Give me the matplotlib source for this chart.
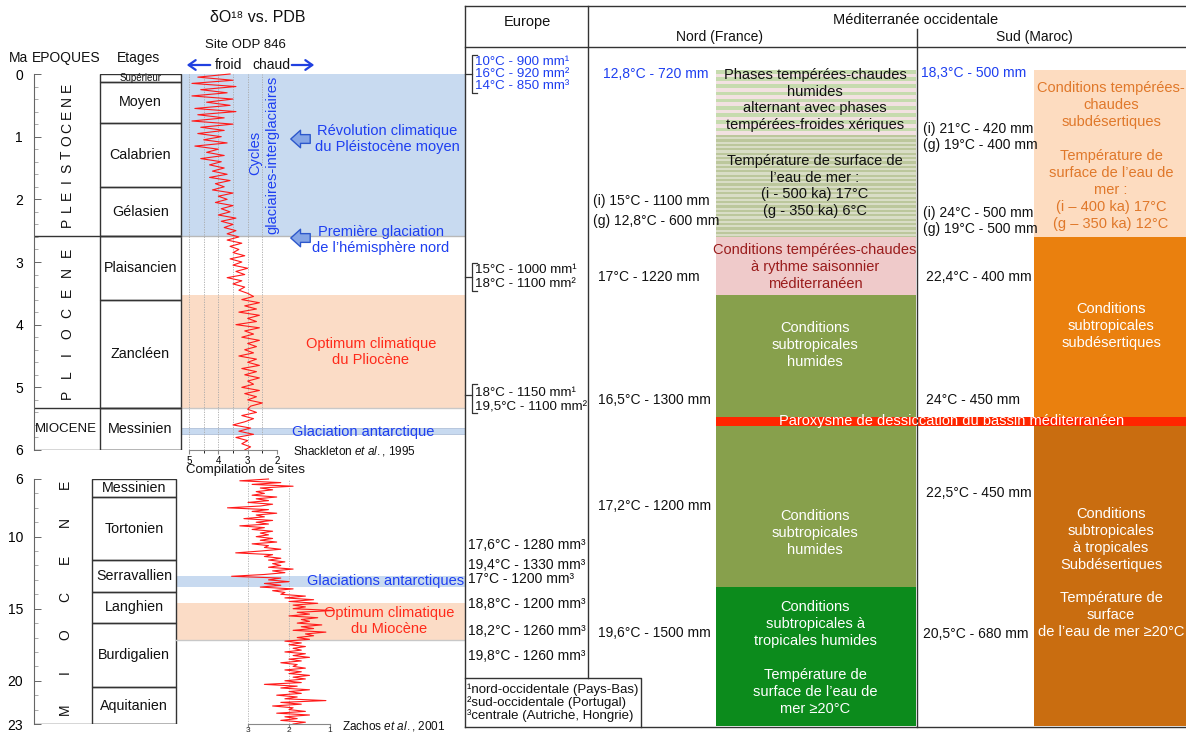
import numpy as np
import matplotlib
matplotlib.use('Agg')
import matplotlib.pyplot as plt
from matplotlib.patches import Rectangle

FONT = ['Liberation Sans', 'DejaVu Sans']
plt.rcParams['font.family'] = FONT
plt.rcParams['mathtext.fontset'] = 'custom'
plt.rcParams['mathtext.rm'] = 'Liberation Sans'
plt.rcParams['mathtext.it'] = 'Liberation Sans:italic'

# ------------------------------------------------------------------ data
top_stages = ['Supérieur', 'Moyen', 'Calabrien', 'Gélasien', 'Plaisancien', 'Zancléen', 'Messinien']
top_stage_bounds = [0.0, 0.126, 0.781, 1.806, 2.588, 3.6, 5.333, 6.0]
top_epoch_bounds = [2.588, 5.333, 6.0]
bot_stages = ['Messinien', 'Tortonien', 'Serravallien', 'Langhien', 'Burdigalien', 'Aquitanien']
bot_stage_bounds = [6.0, 7.25, 11.63, 13.82, 15.97, 20.44, 23.0]

# delta O18 (per mil, PDB) - ODP site 846 (0-6 Ma)
d18o_846 = [3.6, 4.7, 3.5, 4.9, 3.4, 4.6, 3.7, 4.9, 3.5, 4.4, 3.6, 4.8, 3.4, 4.7, 3.8, 4.9, 3.5,
            4.6, 3.8, 4.7, 3.9, 4.5, 3.7, 4.8, 4.0, 4.4, 3.8, 4.6, 3.9, 4.3, 3.8,
            4.2, 3.7, 4.3, 3.6, 4.1, 3.8, 4.2, 3.5, 4.0, 3.7, 4.1, 3.5, 3.9, 3.6, 4.0, 3.4, 3.9, 3.5, 3.8, 3.4, 3.7, 3.3,
            3.7, 3.2, 3.6, 3.3, 3.5, 3.1, 3.6, 3.2, 3.5, 3.0, 3.4, 3.1, 3.7, 3.2, 3.5, 3.1, 3.3, 3.0,
            2.8, 3.2, 2.6, 3.1, 2.7, 3.3, 2.6, 3.0, 2.7, 3.4, 2.6, 3.1, 2.8, 3.2, 2.6, 3.0, 2.7, 3.1,
            2.8, 3.3, 2.7, 3.0, 2.6, 3.2, 2.7, 3.1, 2.6, 3.0, 2.8, 3.2, 2.6, 3.1, 2.7, 3.0, 2.5, 2.9,
            3.0, 2.7, 3.2, 2.8, 3.1, 3.5, 2.9, 3.3, 2.8, 3.4, 3.0, 3.2, 2.9, 3.1]
# delta O18 - compilation (Zachos et al. 2001), 6-23 Ma
d18o_zachos = [2.5, 3.2, 2.2, 2.9, 1.9, 2.7, 2.4, 2.8,
               2.6, 2.9, 2.3, 2.8, 2.5, 3.0, 2.4, 2.7,
               3.5, 2.5, 2.9, 2.3, 2.8, 2.6, 3.1, 2.4,
               2.8, 2.5, 3.2, 2.6, 2.9, 2.4, 2.7, 2.5,
               2.8, 2.4, 2.7, 2.3, 2.9, 2.5, 2.6, 2.2,
               2.7, 3.3, 2.4, 2.6, 2.2, 2.5, 2.1, 2.4,
               2.2, 2.5, 1.9, 2.4, 2.1, 2.6, 3.4, 2.2,
               2.5, 2.0, 2.6, 2.2, 2.7, 1.9, 2.4, 2.1,
               2.2, 1.6, 2.1, 1.4, 2.0, 1.3, 1.9, 1.6,
               1.9, 0.9, 1.8, 1.5, 2.0, 1.3, 1.7, 1.5,
               1.8, 1.2, 1.7, 1.4, 1.9, 1.1, 1.6, 1.4,
               1.8, 1.5, 2.1, 1.7, 2.0, 1.6, 1.9, 1.7,
               2.1, 1.6, 1.9, 1.5, 2.0, 1.7, 2.2, 1.8,
               1.9, 1.6, 2.1, 1.7, 2.0, 1.5, 1.9, 1.6,
               2.1, 1.7, 2.6, 1.8, 2.2, 1.5, 2.0, 1.7,
               2.3, 1.8, 2.1, 1.1, 2.2, 1.7, 2.4, 1.9,
               2.0, 1.6, 2.3, 1.5, 2.1, 1.8, 2.2, 1.6,
               1.9]
ages_846 = np.linspace(0.0, 6.0, len(d18o_846))
ages_zachos = np.linspace(6.0, 23.0, len(d18o_zachos))
ticks_846 = [5, 4, 3, 2]
ticks_zachos = [3, 2, 1]

# climatic events (Ma)
pleisto_band = (0.0, 2.588)
plio_optimum = (3.52, 5.333)
glac_ant_top = (5.65, 5.75)
glac_ant_bot = (12.75, 13.5)
mio_optimum = (14.6, 17.2)

europe_vals = ['17,6°C - 1280 mm³', '19,4°C - 1330 mm³', '17°C - 1200 mm³',
               '18,8°C - 1200 mm³', '18,2°C - 1260 mm³', '19,8°C - 1260 mm³']
europe_brackets = [['10°C - 900 mm¹', '16°C - 920 mm²', '14°C - 850 mm³'],
                   ['15°C - 1000 mm¹', '18°C - 1100 mm²'],
                   ['18°C - 1150 mm¹', '19,5°C - 1100 mm²']]
footnotes = ['¹nord-occidentale (Pays-Bas)', '²sud-occidentale (Portugal)', '³centrale (Autriche, Hongrie)']
nord_vals = ['12,8°C - 720 mm', '(i) 15°C - 1100 mm', '(g) 12,8°C - 600 mm', '17°C - 1220 mm',
             '16,5°C - 1300 mm', '17,2°C - 1200 mm', '19,6°C - 1500 mm']
sud_vals = ['18,3°C - 500 mm', '(i) 21°C - 420 mm', '(g) 19°C - 400 mm', '(i) 24°C - 500 mm',
            '(g) 19°C - 500 mm', '22,4°C - 400 mm', '24°C - 450 mm', '22,5°C - 450 mm', '20,5°C - 680 mm']
nord_blocks = ['Phases tempérées-chaudes\nhumides\nalternant avec phases\ntempérées-froides xériques',
               'Température de surface de\nl\u2019eau de mer :\n(i - 500 ka) 17°C\n(g - 350 ka) 6°C',
               'Conditions tempérées-chaudes\nà rythme saisonnier\nméditerranéen',
               'Conditions\nsubtropicales\nhumides',
               'Conditions\nsubtropicales\nhumides',
               'Conditions\nsubtropicales à\ntropicales humides\n\nTempérature de\nsurface de l\u2019eau de\nmer \u226520°C']
sud_blocks = ['Conditions tempérées-\nchaudes\nsubdésertiques\n\nTempérature de\nsurface de l\u2019eau de\nmer :\n(i \u2013 400 ka) 17°C\n(g \u2013 350 ka) 12°C',
              'Conditions\nsubtropicales\nsubdésertiques',
              'Conditions\nsubtropicales\nà tropicales\nSubdésertiques\n\nTempérature de\nsurface\nde l\u2019eau de mer \u226520°C']
crisis_label = 'Paroxysme de dessiccation du bassin méditerranéen'

# ------------------------------------------------------------------ styles
W, H = 1186, 733
BLUE_T = '#1e3ff0'
RED_T = '#ff2a1a'
BAND_BLUE = '#c8daf0'
BAND_OR = '#fbdcc6'
CURVE = '#ff1a1a'

fig = plt.figure(figsize=(W / 100, H / 100), dpi=100)


def px_axes(x0, y0, x1, y1):
    return fig.add_axes([x0 / W, 1 - y1 / H, (x1 - x0) / W, (y1 - y0) / H])


def rect(ax, x0, y0, x1, y1, **kw):
    ax.add_patch(Rectangle((x0, y0), x1 - x0, y1 - y0, **kw))


def age_axis(ax, x_lo, major, minor, y_lo, y_hi):
    ax.set_xlim(x_lo, 465)
    ax.set_ylim(y_hi, y_lo)
    ax.patch.set_visible(False)
    for s in ['top', 'right', 'bottom']:
        ax.spines[s].set_visible(False)
    ax.spines['left'].set_color('#666666')
    ax.spines['left'].set_linewidth(0.8)
    ax.set_xticks([])
    ax.set_yticks(major)
    ax.set_yticks(minor, minor=True)
    ax.tick_params(axis='y', which='major', direction='in', length=5, width=0.7,
                   color='#666666', labelsize=10, pad=8)
    ax.tick_params(axis='y', which='minor', direction='in', length=3, width=0.5, color='#888888')


# ---------------- top stratigraphic panel (0-6 Ma)
axT = px_axes(34, 74, 465, 450)
age_axis(axT, 34, range(7), np.arange(0, 6.01, 0.2), 0, 6)
rect(axT, 181, pleisto_band[0], 465, pleisto_band[1], fc=BAND_BLUE, ec='none')
axT.plot([181, 465], [pleisto_band[1]] * 2, color='#b8b8b8', lw=1)
rect(axT, 181, plio_optimum[0], 465, plio_optimum[1], fc=BAND_OR, ec='none')
axT.plot([181, 465], [plio_optimum[1]] * 2, color='#c8c8c8', lw=1)
rect(axT, 181, glac_ant_top[0], 465, glac_ant_top[1], fc=BAND_BLUE, ec='#b0c0d8', lw=0.6)
for a0, a1 in zip(top_stage_bounds[:-1], top_stage_bounds[1:]):
    rect(axT, 100, a0, 181, a1, fill=False, ec='#333333', lw=1)
for i, name in enumerate(top_stages):
    mid = (top_stage_bounds[i] + top_stage_bounds[i + 1]) / 2
    axT.text(140.5, mid, name, ha='center', va='center',
             fontsize=7 if i == 0 else 10.3, color='#111111')
for b in top_epoch_bounds:
    axT.plot([34, 181], [b, b], color='#333333', lw=1)


def spaced_letters(ax, word, x, a_bottom, a_top, size=10):
    n = len(word)
    for k, ch in enumerate(word):
        a = a_bottom + (a_top - a_bottom) * k / (n - 1)
        ax.text(x, a, ch, rotation=90, ha='center', va='center', fontsize=size, color='#111111')


spaced_letters(axT, 'PLEISTOCENE', 67, 2.36, 0.21)
spaced_letters(axT, 'PLIOCENE', 67, 5.12, 2.84)
axT.text(66, 5.67, 'MIOCENE', ha='center', va='center', fontsize=9.5, color='#111111')

# ---------------- bottom stratigraphic panel (6-23 Ma)
axB = px_axes(34, 479, 465, 724)
age_axis(axB, 34, [6, 10, 15, 20, 23], np.arange(6, 23.01, 1.0), 6, 23)
rect(axB, 176, glac_ant_bot[0], 465, glac_ant_bot[1], fc=BAND_BLUE, ec='none')
rect(axB, 176, mio_optimum[0], 465, mio_optimum[1], fc=BAND_OR, ec='none')
axB.plot([176, 465], [mio_optimum[1]] * 2, color='#c8c8c8', lw=1)
for a0, a1 in zip(bot_stage_bounds[:-1], bot_stage_bounds[1:]):
    rect(axB, 92, a0, 176, a1, fill=False, ec='#333333', lw=1)
for i, name in enumerate(bot_stages):
    mid = (bot_stage_bounds[i] + bot_stage_bounds[i + 1]) / 2
    axB.text(134, mid, name, ha='center', va='center', fontsize=10.3, color='#111111')
axB.plot([34, 176], [23, 23], color='#333333', lw=1)
spaced_letters(axB, 'MIOCENE', 65, 22.0, 6.4)

# ---------------- isotope curves
axTc = px_axes(189, 74, 277, 450)
axTc.set_xlim(5, 2)
axTc.set_ylim(6, 0)
axTc.patch.set_visible(False)
for s in ['top', 'right', 'left']:
    axTc.spines[s].set_visible(False)
axTc.spines['bottom'].set_color('#888888')
axTc.set_yticks([])
axTc.set_xticks(ticks_846)
axTc.set_xticks([4.5, 3.5, 2.5], minor=True)
axTc.tick_params(axis='x', labelsize=7, pad=1, length=3, color='#888888')
axTc.tick_params(axis='x', which='minor', length=2)
for v in [5, 4.5, 4, 3.5, 3, 2.5, 2]:
    axTc.axvline(v, color='#a8a8a8', lw=0.6, ls=(0, (1.5, 1.5)))
axTc.plot(d18o_846, ages_846, color=CURVE, lw=0.8, clip_on=False)

axBc = px_axes(248, 479, 330, 724)
axBc.set_xlim(3, 1)
axBc.set_ylim(23, 6)
axBc.patch.set_visible(False)
for s in ['top', 'right', 'left']:
    axBc.spines[s].set_visible(False)
axBc.spines['bottom'].set_color('#888888')
axBc.set_yticks([])
axBc.set_xticks(ticks_zachos)
axBc.set_xticklabels([])
axBc.tick_params(axis='x', length=2.5, color='#888888')
for v in ticks_zachos:
    axBc.axvline(v, color='#b0b0b0', lw=0.6, ls=(0, (1.5, 1.5)))
    axBc.text(v, 1.0, str(v), transform=axBc.get_xaxis_transform(), ha='center', va='top',
              fontsize=6, color='#222222')
axBc.texts[-1].set_y(1.0)
for t in axBc.texts:
    t.set_transform(matplotlib.transforms.blended_transform_factory(axBc.transData, fig.transFigure))
    t.set_y(1 - 726.5 / H)
axBc.plot(d18o_zachos, ages_zachos, color=CURVE, lw=0.8, clip_on=False)

# ---------------- overlay (texts, table)
ax0 = fig.add_axes([0, 0, 1, 1])
ax0.set_xlim(0, W)
ax0.set_ylim(H, 0)
ax0.axis('off')
ax0.patch.set_visible(False)


def T(x, y, s, size=10, color='#111111', ha='center', va='center', **kw):
    ax0.text(x, y, s, fontsize=size, color=color, ha=ha, va=va, **kw)


# left headers
T(258, 18, 'δO¹⁸ vs. PDB', size=11.5)
T(245, 45, 'Site ODP 846', size=9.5)
T(19, 58, 'Ma', size=10)
T(66, 58, 'EPOQUES', size=10)
T(138, 58, 'Etages', size=10)
T(228, 65, 'froid', size=10)
T(271, 65, 'chaud', size=10)
ax0.annotate('', xy=(184, 65), xytext=(213, 65),
             arrowprops=dict(arrowstyle='->,head_length=0.5,head_width=0.35', color='#2040e0', lw=1.6))
ax0.annotate('', xy=(317, 65), xytext=(289, 65),
             arrowprops=dict(arrowstyle='->,head_length=0.5,head_width=0.35', color='#2040e0', lw=1.6))

T(255, 153, 'Cycles', size=10.5, color=BLUE_T, rotation=90)
T(272, 155, 'glaciaires-interglaciaires', size=10.5, color=BLUE_T, rotation=90)
blk = dict(arrowstyle='simple,head_length=0.5,head_width=0.9,tail_width=0.45',
           fc='#86a6e6', ec='#2d58cc', lw=1, mutation_scale=14)
ax0.annotate('', xy=(288, 139), xytext=(313, 139), arrowprops=blk)
ax0.annotate('', xy=(288, 238), xytext=(313, 238), arrowprops=blk)
T(387, 139, 'Révolution climatique\ndu Pléistocène moyen', size=10.5, color=BLUE_T, linespacing=1.25)
T(381, 240, 'Première glaciation\nde l\u2019hémisphère nord', size=10.5, color=BLUE_T, linespacing=1.25)
T(371, 352, 'Optimum climatique\ndu Pliocène', size=10.5, color=RED_T, linespacing=1.25)
T(363, 432, 'Glaciation antarctique', size=10.5, color=BLUE_T)
T(293, 451, r'Shackleton $\it{et\ al.}$, 1995', size=8.5, ha='left')
T(186, 470, 'Compilation de sites', size=9.5, ha='left')
T(386, 581, 'Glaciations antarctiques', size=10.5, color=BLUE_T)
T(389, 621, 'Optimum climatique\ndu Miocène', size=10.5, color=RED_T, linespacing=1.25)
T(342, 726, r'Zachos $\it{et\ al.}$, 2001', size=8.5, ha='left')

# table frame
LW = 1.0
LC = '#333333'
ax0.plot([465, 1186], [6, 6], color=LC, lw=LW)
ax0.plot([465, 465], [6, 727], color=LC, lw=LW)
ax0.plot([465, 1186], [727, 727], color=LC, lw=LW)
ax0.plot([465, 1186], [47, 47], color=LC, lw=LW)
ax0.plot([588, 588], [6, 678], color=LC, lw=LW)
ax0.plot([917, 917], [29, 727], color=LC, lw=LW)
T(527, 22, 'Europe', size=10.5)
T(916, 20, 'Méditerranée occidentale', size=10.5)
T(719, 37, 'Nord (France)', size=10)
T(1034, 37, 'Sud (Maroc)', size=10)

# Nord blocks
NX0, NX1 = 716, 916
y = 70
k = 0
while y < 135:
    rect(ax0, NX0, y, NX1, min(y + 3.6, 135), fc='#c6dbae' if k % 2 == 0 else '#f2e1e1', ec='none')
    y += 3.6
    k += 1
y = 135
k = 0
while y < 237:
    rect(ax0, NX0, y, NX1, min(y + 2.2, 237), fc='#bcc79c' if k % 2 == 0 else '#d9ddc6', ec='none')
    y += 2.2
    k += 1
rect(ax0, NX0, 237, NX1, 295, fc='#efcaca', ec='none')
rect(ax0, NX0, 295, NX1, 417, fc='#87a04c', ec='none')
rect(ax0, NX0, 426, NX1, 587, fc='#87a04c', ec='none')
rect(ax0, NX0, 587, NX1, 726, fc='#0c8b1c', ec='none')
# Sud blocks
SX0, SX1 = 1034, 1186
rect(ax0, SX0, 70, SX1, 237, fc='#fddcc0', ec='none')
rect(ax0, SX0, 237, SX1, 417, fc='#ea800e', ec='none')
rect(ax0, SX0, 426, SX1, 726, fc='#c96d10', ec='none')
# crisis band
rect(ax0, NX0, 417, SX1, 426, fc='#ff2600', ec='none')
T(952, 421, crisis_label, size=10.5, color='white')

BS = 10.5
LS = 1.27
T(815, 100, nord_blocks[0], size=BS, linespacing=LS)
T(815, 186, nord_blocks[1], size=BS, linespacing=LS)
T(815, 267, nord_blocks[2], size=BS, color='#9a1c1c', linespacing=LS)
T(815, 345, nord_blocks[3], size=BS, color='white', linespacing=LS)
T(815, 533, nord_blocks[4], size=BS, color='white', linespacing=LS)
T(815, 658, nord_blocks[5], size=BS, color='white', linespacing=LS)
T(1111, 156, sud_blocks[0], size=BS, color='#e0782a', linespacing=LS)
T(1111, 326, sud_blocks[1], size=BS, color='white', linespacing=LS)
T(1111, 573, sud_blocks[2], size=BS, color='white', linespacing=LS)

# Nord values
VS = 10
T(656, 74, nord_vals[0], size=VS, color=BLUE_T)
nord_pos = [(593, 201), (593, 221), (598, 277), (598, 400), (598, 506), (598, 633)]
for s, (x, yy) in zip(nord_vals[1:], nord_pos):
    T(x, yy, s, size=VS, ha='left')
# Sud values
T(921, 73, sud_vals[0], size=VS, color=BLUE_T, ha='left')
sud_pos = [(923, 129), (923, 145), (923, 213), (923, 229), (926, 277), (926, 400), (926, 493), (923, 634)]
for s, (x, yy) in zip(sud_vals[1:], sud_pos):
    T(x, yy, s, size=VS, ha='left')

# Europe values with brackets
br_pos = [(62, 12, 55, 93, 74, BLUE_T), (270, 14, 263, 291, 277, '#111111'), (393, 14, 384, 413, 395, '#111111')]
for lines, (y0, dy, b0, b1, bm, col) in zip(europe_brackets, br_pos):
    for j, s in enumerate(lines):
        T(475, y0 + j * dy, s, size=9.6, color=col, ha='left')
    ax0.plot([477, 472, 472, 477], [b0, b0, b1, b1], color='#333333', lw=0.9)
    ax0.plot([465, 472], [bm, bm], color='#333333', lw=0.9)
for s, yy in zip(europe_vals, [545, 565, 579, 604, 631, 656]):
    T(468, yy, s, size=VS, ha='left')
# footnote box
ax0.plot([465, 641, 641], [678, 678, 727], color=LC, lw=LW)
for s, yy in zip(footnotes, [690, 703, 716]):
    T(467, yy, s, size=9.5, ha='left')

fig.savefig('out.png', dpi=100)
